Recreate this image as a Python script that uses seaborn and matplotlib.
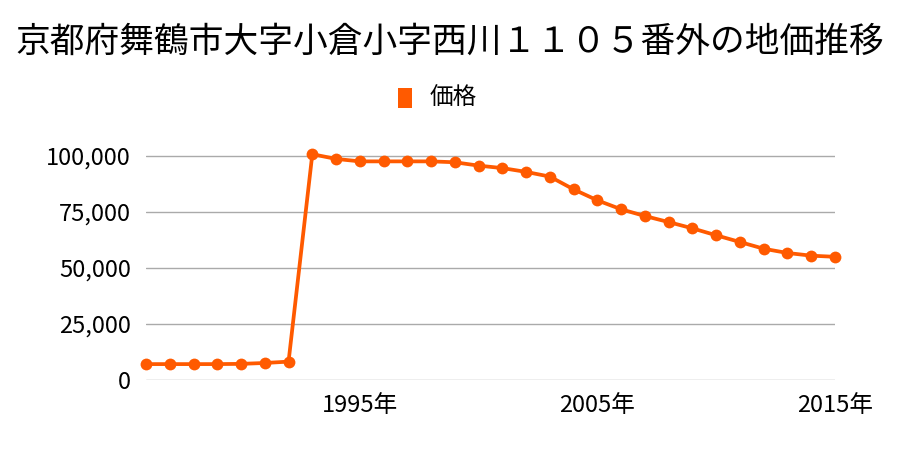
import matplotlib
matplotlib.use("Agg")
import matplotlib.pyplot as plt
import seaborn as sns
import pandas as pd
from matplotlib.ticker import FuncFormatter
from matplotlib.patches import Rectangle

years = list(range(1986, 2016))
prices = [7100, 7100, 7100, 7100, 7200, 7600, 8200,
          100800, 98700, 97600, 97600, 97600, 97600,
          97200, 95700, 94600, 92900, 90800, 85100, 80200,
          76200, 73200, 70500, 67700, 64600, 61600, 58600,
          56700, 55500, 55000]
xtick_years = [1995, 2005, 2015]
ytick_values = [0, 25000, 50000, 75000, 100000]
title = "京都府舞鶴市大字小倉小字西川１１０５番外の地価推移"
series_name = "価格"

sns.set_theme(style="white")
plt.rcParams['font.family'] = ['Noto Sans CJK JP', 'DejaVu Sans']

df = pd.DataFrame({"year": years, "price": prices})
color = "#FF5A00"

fig = plt.figure(figsize=(9, 4.5), dpi=100)
ax = fig.add_axes([146/900, 1-380/450, (835-146)/900, (380-144.8)/450])

sns.lineplot(data=df, x="year", y="price", ax=ax, color=color, linewidth=2.7,
             marker="o", markersize=8.5, markeredgewidth=0, label=series_name,
             legend=False, clip_on=False, zorder=3)

ax.set_xlim(1986, 2015)
ax.set_ylim(0, 105000)
ax.set_yticks(ytick_values)
ax.yaxis.set_major_formatter(FuncFormatter(lambda v, p: f"{int(v):,}"))
ax.set_xticks(xtick_years)
ax.set_xticklabels([f"{y}年" for y in xtick_years])
ax.grid(axis="y", color="#aaaaaa", linewidth=1)
ax.grid(axis="x", visible=False)
for s in ax.spines.values():
    s.set_visible(False)
ax.tick_params(axis="both", length=0, labelsize=17, colors="#000000")
ax.tick_params(axis="y", pad=11)
ax.tick_params(axis="x", pad=10)
ax.set_xlabel("")
ax.set_ylabel("")

fig.text(0.5, 1-42/450, title, ha="center", va="center", fontsize=25, color="#000000")

fig.patches.append(Rectangle((398/900, 1-108/450), 14/900, 20/450, transform=fig.transFigure,
                             facecolor=color, edgecolor="none"))
fig.text(430/900, 1-98/450, series_name, ha="left", va="center", fontsize=17, color="#000000")

fig.savefig("out.png", dpi=100)
